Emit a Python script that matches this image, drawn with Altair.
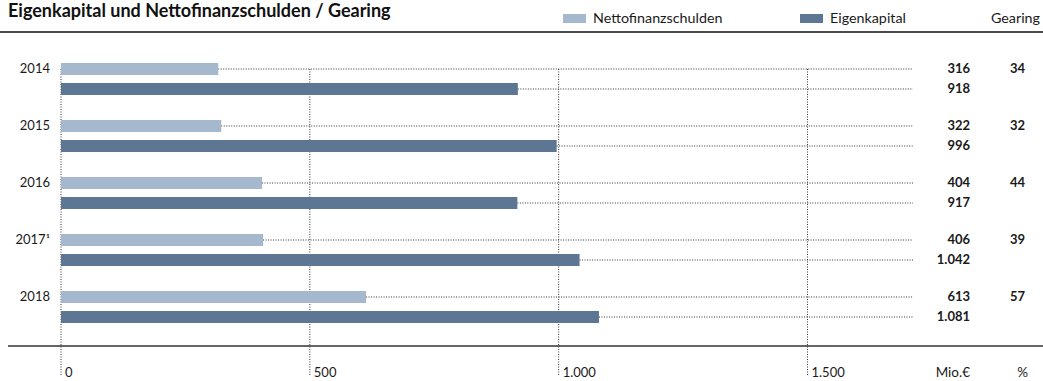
import altair as alt
import pandas as pd

years = ["2014", "2015", "2016", "2017¹", "2018"]
netto = [316, 322, 404, 406, 613]
eigen = [918, 996, 917, 1042, 1081]
gearing = [34, 32, 44, 39, 57]
series = ["Nettofinanzschulden", "Eigenkapital"]
colors = ["#a6b8cd", "#5c7693"]
tick_values = [0, 500, 1000, 1500]
tick_labels = ["0", "500", "1.000", "1.500"]
title_text = "Eigenkapital und Nettofinanzschulden / Gearing"

FONT = "Lato"
TXT = "#1a1a1a"
W, H = 852, 285


def de(v):
    return f"{v:,}".replace(",", ".")


rows = []
for i, y in enumerate(years):
    rows.append({"year": y, "series": series[0], "value": netto[i], "label": de(netto[i]),
                 "gearing": str(gearing[i])})
    rows.append({"year": y, "series": series[1], "value": eigen[i], "label": de(eigen[i]),
                 "gearing": ""})
df = pd.DataFrame(rows)
df_n = df[df.series == series[0]]
ticks = pd.DataFrame({"v": tick_values, "t": tick_labels})
legend = pd.DataFrame({"series": series, "x0": [502, 739]})
one = pd.DataFrame({"k": [0]})

xs = alt.Scale(domain=[0, 1712], range=[0, W], nice=False, zero=True)
ys = alt.Scale(domain=years, paddingInner=0, paddingOuter=0)
yo = alt.Scale(domain=series, range=[13, 45], paddingInner=0.4, paddingOuter=0)
cs = alt.Scale(domain=series, range=colors)

X = alt.X("value:Q", scale=xs, axis=None)
Y = alt.Y("year:N", scale=ys, axis=None, sort=years)
YO = alt.YOffset("series:N", scale=yo, sort=series)

hlines = alt.Chart(df).mark_rule(color="#333333", strokeDash=[1, 1.5], strokeWidth=1).encode(
    x=X, x2=alt.value(W), y=Y, yOffset=YO)

vlines = alt.Chart(ticks).mark_rule(color="#333333", strokeDash=[1, 1.5], strokeWidth=1).encode(
    x=alt.X("v:Q", scale=xs, axis=None), y=alt.value(19), y2=alt.value(326))

bars = alt.Chart(df).mark_bar().encode(
    x=X, y=Y, yOffset=YO,
    color=alt.Color("series:N", scale=cs, legend=None))

vals = alt.Chart(df).mark_text(align="right", baseline="middle", font=FONT, fontWeight="bold",
                               fontSize=13, color=TXT).encode(
    x=alt.value(909), y=Y, yOffset=YO, text="label:N")

gear = alt.Chart(df_n).mark_text(align="right", baseline="middle", font=FONT, fontWeight="bold",
                                 fontSize=13, color=TXT).encode(
    x=alt.value(964), y=Y, yOffset=YO, text="gearing:N")

ylab = alt.Chart(df_n).mark_text(align="right", baseline="middle", font=FONT,
                                 fontSize=13, color=TXT).encode(
    x=alt.value(-11), y=Y, yOffset=YO, text="year:N")

tlab = alt.Chart(ticks).mark_text(align="left", baseline="middle", font=FONT, fontSize=13,
                                  color=TXT, dx=4).encode(
    x=alt.X("v:Q", scale=xs, axis=None), y=alt.value(323), text="t:N")

axisline = alt.Chart(one).mark_rule(color="#333333", strokeWidth=1.5).encode(
    x=alt.value(-53), x2=alt.value(982), y=alt.value(296))

units = alt.Chart(pd.DataFrame({"t": ["Mio.€", "%"], "x": [909, 967]})).mark_text(
    align="right", baseline="middle", font=FONT, fontSize=13.5, color=TXT).encode(
    x=alt.X("x:Q", scale=None), y=alt.value(323), text="t:N")

title = alt.Chart(one).mark_text(align="left", baseline="middle", font=FONT, fontWeight="bold",
                                 fontSize=18, color="#111111").encode(
    x=alt.value(-53), y=alt.value(-38), text=alt.value(title_text))

titleline = alt.Chart(one).mark_rule(color="#111111", strokeWidth=1.5).encode(
    x=alt.value(-61), x2=alt.value(982), y=alt.value(-18))

leg_rect = alt.Chart(legend).mark_rect().encode(
    x=alt.X("x0:Q", scale=None), x2=alt.X2("x1:Q"), y=alt.value(-36), y2=alt.value(-27),
    color=alt.Color("series:N", scale=cs, legend=None)).transform_calculate(x1="datum.x0 + 23")

leg_text = alt.Chart(legend).mark_text(align="left", baseline="middle", font=FONT, fontSize=14.3,
                                       color=TXT).encode(
    x=alt.X("xt:Q", scale=None), y=alt.value(-31), text="series:N").transform_calculate(
    xt="datum.x0 + 30")

gear_head = alt.Chart(one).mark_text(align="right", baseline="middle", font=FONT, fontSize=14.3,
                                     color=TXT).encode(
    x=alt.value(979), y=alt.value(-31), text=alt.value("Gearing"))

chart = alt.layer(
    vlines, hlines, bars, vals, gear, ylab, tlab, axisline, units,
    title, titleline, leg_rect, leg_text, gear_head
).properties(
    width=W, height=H,
    background="white",
    autosize=alt.AutoSizeParams(type="none"),
    padding={"left": 61, "top": 50, "right": 130, "bottom": 46},
).configure_view(stroke=None)

chart.save("out.html", embed_options={"renderer": "svg", "actions": False})
